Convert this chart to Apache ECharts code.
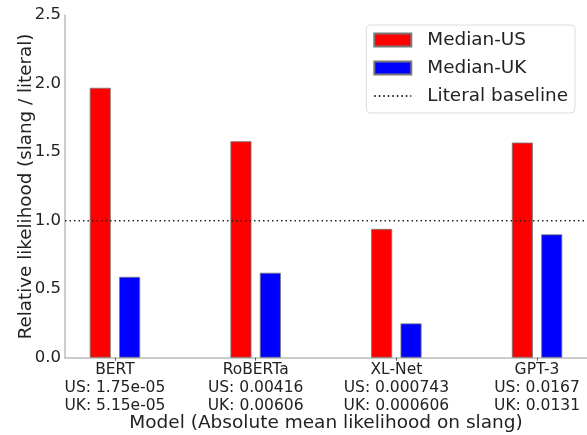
<!DOCTYPE html>
<html>
<head>
<meta charset="utf-8">
<script src="https://cdn.jsdelivr.net/npm/echarts@6/dist/echarts.min.js"></script>
<style>html,body{margin:0;padding:0;background:#fff}#c{width:587px;height:435px}</style>
</head>
<body>
<div id="c"></div>
<script>
var models = ['BERT', 'RoBERTa', 'XL-Net', 'GPT-3'];
var absUS = ['1.75e-05', '0.00416', '0.000743', '0.0167'];
var absUK = ['5.15e-05', '0.00606', '0.000606', '0.0131'];
var medianUS = [1.97, 1.58, 0.94, 1.57];
var medianUK = [0.59, 0.62, 0.25, 0.90];
var baseline = 1.0;

var positions = models.map(function (m, i) { return i; });
var xMin = -0.355, xMax = models.length - 1 + 0.355;
var FONT = 'DejaVu Sans';

var chart = echarts.init(document.getElementById('c'), null, {renderer: 'canvas'});
chart.setOption({
  animation: false,
  backgroundColor: '#fff',
  textStyle: {fontFamily: FONT},
  grid: {left: 65, right: 0, top: 15.2, bottom: 77.3, containLabel: false, outerBoundsMode: 'none'},
  legend: {
    right: 12, top: 25,
    orient: 'vertical',
    itemWidth: 37, itemHeight: 13, itemGap: 8,
    padding: [5, 7, 7, 7],
    borderColor: '#dddddd', borderWidth: 1, borderRadius: 4,
    backgroundColor: 'rgba(255,255,255,0.8)',
    textStyle: {fontFamily: FONT, fontSize: 18.4, lineHeight: 20, color: '#222', padding: [0, 0, 0, 11]},
    data: [
      {name: 'Median-US', icon: 'rect'},
      {name: 'Median-UK', icon: 'rect'},
      {name: 'Literal baseline',
        itemStyle: {color: 'rgba(0,0,0,0)', borderColor: 'rgba(0,0,0,0)', borderWidth: 0, opacity: 0}}
    ]
  },
  xAxis: {
    type: 'value', min: xMin, max: xMax,
    name: 'Model (Absolute mean likelihood on slang)',
    nameLocation: 'middle', nameGap: 56, nameMoveOverlap: false,
    nameTextStyle: {fontFamily: FONT, fontSize: 18.5, color: '#222'},
    axisLine: {show: true, onZero: false, lineStyle: {color: '#bbbbbb', width: 1.5}},
    axisTick: {show: true, customValues: positions, length: 3, lineStyle: {color: '#555'}},
    axisLabel: {
      customValues: positions, margin: 3,
      fontFamily: FONT, fontSize: 15.5, color: '#222', lineHeight: 18,
      formatter: function (v) {
        var i = Math.round(v);
        return models[i] + '\nUS: ' + absUS[i] + '\nUK: ' + absUK[i];
      }
    },
    splitLine: {show: false}
  },
  yAxis: {
    type: 'value', min: 0, max: 2.5, interval: 0.5,
    name: 'Relative likelihood (slang / literal)',
    nameLocation: 'middle', nameGap: 30, nameMoveOverlap: false,
    nameTextStyle: {fontFamily: FONT, fontSize: 18.3, color: '#222'},
    axisLine: {show: true, onZero: false, lineStyle: {color: '#bbbbbb', width: 1.5}},
    axisTick: {show: false},
    axisLabel: {margin: 4, fontFamily: FONT, fontSize: 16.5, color: '#222',
      formatter: function (v) { return v.toFixed(1); }},
    splitLine: {show: false}
  },
  series: [
    {
      name: 'Median-US', type: 'bar', barWidth: 21, barGap: '40%',
      data: medianUS.map(function (v, i) { return [positions[i], v]; }),
      itemStyle: {color: '#ff0000', borderColor: '#777', borderWidth: 0.8}
    },
    {
      name: 'Median-UK', type: 'bar', barWidth: 21, barGap: '40%',
      data: medianUK.map(function (v, i) { return [positions[i], v]; }),
      itemStyle: {color: '#0000ff', borderColor: '#777', borderWidth: 0.8}
    },
    {
      name: 'Literal baseline', type: 'line', symbol: 'none',
      data: [[xMin, baseline], [xMax, baseline]],
      lineStyle: {color: '#222', width: 1.5, type: [1.5, 3]},
      itemStyle: {color: '#222'},
      z: 5
    }
  ]
});
</script>
</body>
</html>
